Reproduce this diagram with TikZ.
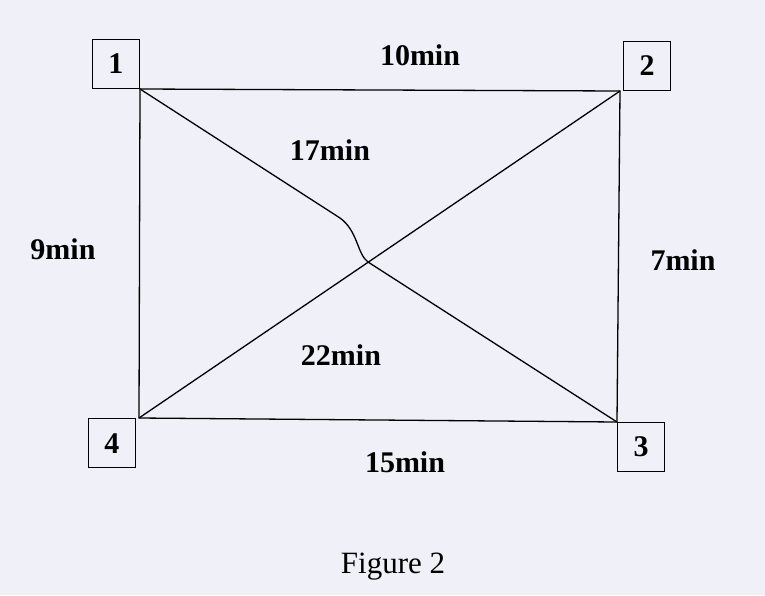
\documentclass[tikz,border=0pt]{standalone}
\usepackage{fontspec}
\setmainfont{Liberation Serif}
\usepackage{xcolor}
\usetikzlibrary{positioning,calc}

\definecolor{paper}{RGB}{240,241,248}

\begin{document}
\begin{tikzpicture}[
  x=1pt, y=-1pt,
  numbox/.style={draw, line width=1.3pt, minimum width=47pt, minimum height=49pt,
                 inner sep=0pt, font=\fontsize{30}{32}\selectfont\bfseries},
  lbl/.style={font=\fontsize{30}{32}\selectfont\bfseries, inner sep=0pt},
  edge/.style={line width=1.3pt}
]
  \fill[paper] (0,0) rectangle (765,595);
  \useasboundingbox (0,0) rectangle (765,595);
  % corners of the route
  \coordinate (v1) at (140,89);
  \coordinate (v2) at (620,91);
  \coordinate (v3) at (617,422);
  \coordinate (v4) at (139,418);
  \coordinate (k1) at (340,218);
  \coordinate (k2) at (368,262);
  % numbered boxes
  \node[numbox, anchor=south east] (b1) at (v1) {1};
  \node[numbox, anchor=south west, xshift=3pt] (b2) at (v2) {2};
  \node[numbox, anchor=north west] (b3) at (v3) {3};
  \node[numbox, anchor=north east, xshift=-3pt] (b4) at (v4) {4};
  % edges
  \draw[edge] (v1) -- (v2) -- (v3) -- (v4) -- cycle;
  \draw[edge] (v2) -- (v4);
  \draw[edge] (v1) -- (k1) .. controls (358,231) and (357,254) .. (k2) -- (v3);
  % times
  \node[lbl] (t12) at (420,55) {10min};
  \node[lbl] (t13) at (330,150) {17min};
  \node[lbl] (t14) at (63,249) {9min};
  \node[lbl] (t23) at (683,260) {7min};
  \node[lbl] (t24) at (341,355) {22min};
  \node[lbl] (t34) at (405,462) {15min};
  \node[font=\fontsize{31}{34}\selectfont, inner sep=0pt] (cap) at (393,567) {Figure 2};
\end{tikzpicture}
\end{document}
